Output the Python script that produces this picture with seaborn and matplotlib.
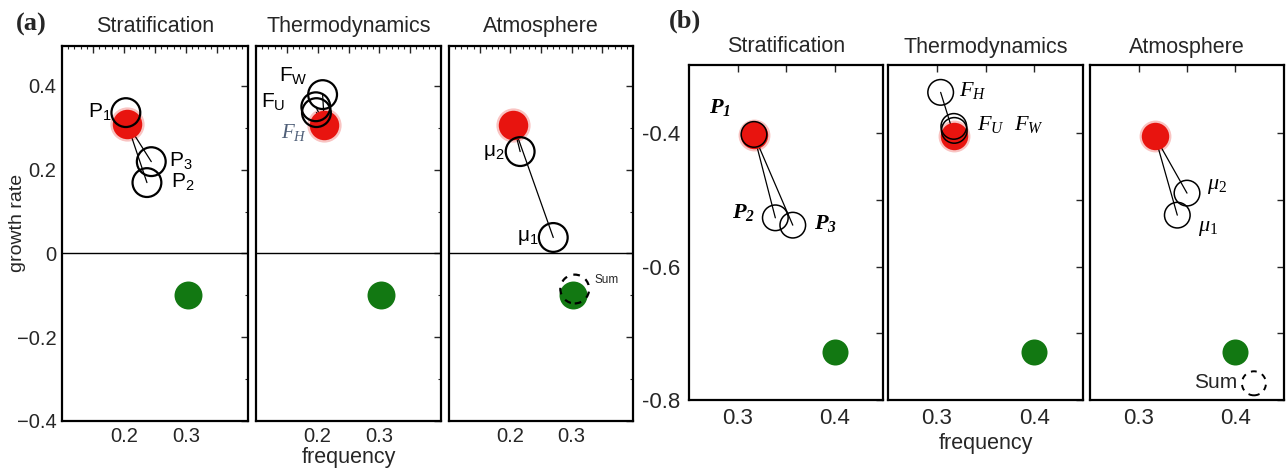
import matplotlib
matplotlib.use("Agg")
import matplotlib.pyplot as plt
from matplotlib.ticker import MultipleLocator, FixedLocator
import seaborn as sns
import pandas as pd

# ---- data ----
panels = ["Stratification", "Thermodynamics", "Atmosphere"]

# (a) growth rate vs frequency
a_red_freq = [0.205, 0.211, 0.205]
a_red_growth = [0.310, 0.307, 0.307]
a_green_freq = [0.303, 0.303, 0.302]
a_green_growth = [-0.100, -0.100, -0.100]
a_mode_names = [["P1", "P2", "P3"], ["FU", "FW", "FH"], ["mu1", "mu2"]]
a_mode_freq = [[0.203, 0.237, 0.244], [0.197, 0.208, 0.198], [0.270, 0.216]]
a_mode_growth = [[0.336, 0.169, 0.219], [0.350, 0.379, 0.336], [0.038, 0.243]]
a_sum_freq = 0.305
a_sum_growth = -0.085

# (b)
b_red_freq = [0.317, 0.318, 0.317]
b_red_growth = [-0.403, -0.405, -0.405]
b_green_freq = [0.400, 0.400, 0.400]
b_green_growth = [-0.728, -0.728, -0.728]
b_mode_names = [["P1", "P2", "P3"], ["FH", "FU", "FW"], ["mu1", "mu2"]]
b_mode_freq = [[0.317, 0.339, 0.357], [0.304, 0.3175, 0.318], [0.340, 0.350]]
b_mode_growth = [[-0.402, -0.527, -0.538], [-0.339, -0.390, -0.396], [-0.523, -0.490]]
b_sum_freq = 0.419
b_sum_growth = -0.775

# label text and placement (pixel offsets from circle centre)
a_text = {
    "P1": (r"$\mathregular{P_1}$", -14, 0, "right", "k"),
    "P2": (r"$\mathregular{P_2}$", 24, 0, "left", "k"),
    "P3": (r"$\mathregular{P_3}$", 18, 0, "left", "k"),
    "FU": (r"$\mathregular{F_U}$", -30, 4, "right", "k"),
    "FW": (r"$\mathregular{F_W}$", -15, 18, "right", "k"),
    "FH": (r"$F_H$", -9, -20, "right", "#4f5f78"),
    "mu1": (r"$\mathregular{\mu_1}$", -15, 0, "right", "k"),
    "mu2": (r"$\mathregular{\mu_2}$", -16, -1, "right", "k"),
}
b_text = {
    "P1": (r"$\mathbf{P_1}$", -23, 27, "right", "k"),
    "P2": (r"$\mathbf{P_2}$", -20, 5, "right", "k"),
    "P3": (r"$\mathbf{P_3}$", 21, 2, "left", "k"),
    "FH": (r"$F_H$", 18, 2, "left", "k"),
    "FU": (r"$F_U$", 23, 2, "left", "k"),
    "FW": (r"$F_W$", 60, 6, "left", "k"),
    "mu1": (r"$\mu_1$", 21, -12, "left", "k"),
    "mu2": (r"$\mu_2$", 20, 8, "left", "k"),
}

sns.set_style("white")
plt.rcParams["font.family"] = ["Liberation Sans", "DejaVu Sans"]
plt.rcParams["mathtext.fontset"] = "custom"
plt.rcParams["mathtext.it"] = "Liberation Serif:italic"
plt.rcParams["mathtext.bf"] = "Liberation Serif:italic:bold"
plt.rcParams["mathtext.rm"] = "Liberation Serif"

RED = "#e8140f"
GREEN = "#127812"

fig = plt.figure(figsize=(12.86, 4.75), dpi=100)
W, H = 1286, 475


def px_axes(x0, x1, ytop, ybot):
    return fig.add_axes([x0 / W, 1 - ybot / H, (x1 - x0) / W, (ybot - ytop) / H])


def draw_panel(ax, i, red_f, red_g, green_f, green_g, names, mf, mg, text, s_open, s_fill, lw_open, fs_lab):
    # thin lines from the unstable (red) mode to each contribution
    for f, g in zip(mf[i], mg[i]):
        ax.plot([red_f[i], f], [red_g[i], g], color="k", lw=0.9, zorder=2)
    sns.scatterplot(x=[red_f[i]], y=[red_g[i]], color=RED, s=s_fill * 1.35, alpha=0.25,
                    linewidth=0, ax=ax, zorder=1)
    sns.scatterplot(x=[red_f[i]], y=[red_g[i]], color=RED, s=s_fill, linewidth=0, ax=ax, zorder=2)
    sns.scatterplot(x=[green_f[i]], y=[green_g[i]], color=GREEN, s=s_fill * 0.9, linewidth=0,
                    ax=ax, zorder=2)
    modes = pd.DataFrame({"name": names[i], "freq": mf[i], "growth": mg[i]})
    sns.scatterplot(data=modes, x="freq", y="growth", color="k", s=s_open, ax=ax, zorder=3)
    coll = ax.collections[-1]
    coll.set_facecolor("none")
    coll.set_edgecolor("k")
    coll.set_linewidth(lw_open)
    for _, r in modes.iterrows():
        t, dx, dy, ha, c = text[r["name"]]
        ax.annotate(t, (r["freq"], r["growth"]), xytext=(dx, dy), textcoords="offset pixels",
                    ha=ha, va="center", fontsize=fs_lab, color=c)
    ax.set_xlabel("")
    ax.set_ylabel("")


# ---- panel (a) ----
a_boxes = [(62, 248), (256, 441), (449, 633)]
for i, (x0, x1) in enumerate(a_boxes):
    ax = px_axes(x0, x1, 46, 421)
    draw_panel(ax, i, a_red_freq, a_red_growth, a_green_freq, a_green_growth,
               a_mode_names, a_mode_freq, a_mode_growth, a_text, 430, 450, 1.6, 15)
    ax.axhline(0, color="k", lw=1.0, zorder=1)
    if i == 2:
        sns.scatterplot(x=[a_sum_freq], y=[a_sum_growth], color="k", s=430, ax=ax, zorder=4,
                        linestyle=(0, (3, 3)))
        c = ax.collections[-1]
        c.set_facecolor("none"); c.set_edgecolor("k"); c.set_linewidth(1.6)
        ax.annotate("Sum", (a_sum_freq, a_sum_growth), xytext=(20, 9), textcoords="offset pixels",
                    ha="left", va="center", fontsize=8.5)
    ax.set_xlim(0.1, 0.4)
    ax.set_ylim(-0.4, 0.495)
    ax.xaxis.set_major_locator(FixedLocator([0.15, 0.2, 0.25, 0.3, 0.35]))
    ax.set_xticklabels(["", "0.2", "", "0.3", ""])
    ax.xaxis.set_minor_locator(MultipleLocator(0.01))
    ax.yaxis.set_major_locator(FixedLocator([-0.4, -0.2, 0, 0.2, 0.4]))
    ax.yaxis.set_minor_locator(MultipleLocator(0.1))
    if i == 0:
        ax.set_yticklabels(["\u22120.4", "\u22120.2", "0", "0.2", "0.4"])
    else:
        ax.set_yticklabels([])
    ax.tick_params(which="both", direction="in", top=True, right=True, labelsize=14.5, pad=4)
    ax.tick_params(which="major", length=5, width=1)
    ax.tick_params(which="minor", length=2.5, width=0.8)
    for sp in ax.spines.values():
        sp.set_linewidth(1.6)
        sp.set_color("k")
    ax.set_title(panels[i], fontsize=15.5, pad=10)
    if i == 1:
        ax.set_xlabel("frequency", fontsize=15.5, labelpad=1)

fig.text(18 / W, 0.53, "growth rate", rotation=90, ha="center", va="center", fontsize=14)
fig.text(16 / W, 1 - 24 / H, "(a)", fontsize=19, fontweight="bold", family="Liberation Serif",
         ha="left", va="center")

# ---- panel (b) ----
b_boxes = [(689, 883), (888, 1083), (1090, 1284)]
for i, (x0, x1) in enumerate(b_boxes):
    ax = px_axes(x0, x1, 65, 400)
    draw_panel(ax, i, b_red_freq, b_red_growth, b_green_freq, b_green_growth,
               b_mode_names, b_mode_freq, b_mode_growth, b_text, 340, 390, 1.1, 16)
    if i == 2:
        sns.scatterplot(x=[b_sum_freq], y=[b_sum_growth], color="k", s=300, ax=ax, zorder=4,
                        linestyle=(0, (3, 3)))
        c = ax.collections[-1]
        c.set_facecolor("none"); c.set_edgecolor("k"); c.set_linewidth(1.4)
        ax.annotate("Sum", (b_sum_freq, b_sum_growth), xytext=(-17, 1), textcoords="offset pixels",
                    ha="right", va="center", fontsize=15)
    ax.set_xlim(0.25, 0.45)
    ax.set_ylim(-0.8, -0.298)
    ax.xaxis.set_major_locator(FixedLocator([0.3, 0.35, 0.4]))
    ax.set_xticklabels(["0.3", "", "0.4"])
    ax.yaxis.set_major_locator(FixedLocator([-0.8, -0.7, -0.6, -0.5, -0.4]))
    if i == 0:
        ax.set_yticklabels(["-0.8", "", "-0.6", "", "-0.4"])
    else:
        ax.set_yticklabels([])
    ax.tick_params(which="both", direction="in", top=True, right=True, labelsize=16,
                   length=5, width=1, pad=6)
    for sp in ax.spines.values():
        sp.set_linewidth(1.6)
        sp.set_color("k")
    ax.set_title(panels[i], fontsize=15.5, pad=9)
    if i == 1:
        ax.set_xlabel("frequency", fontsize=15.5, labelpad=3)

fig.text(669 / W, 1 - 21 / H, "(b)", fontsize=19, fontweight="bold", family="Liberation Serif",
         ha="left", va="center")

fig.savefig("out.png", dpi=100)
